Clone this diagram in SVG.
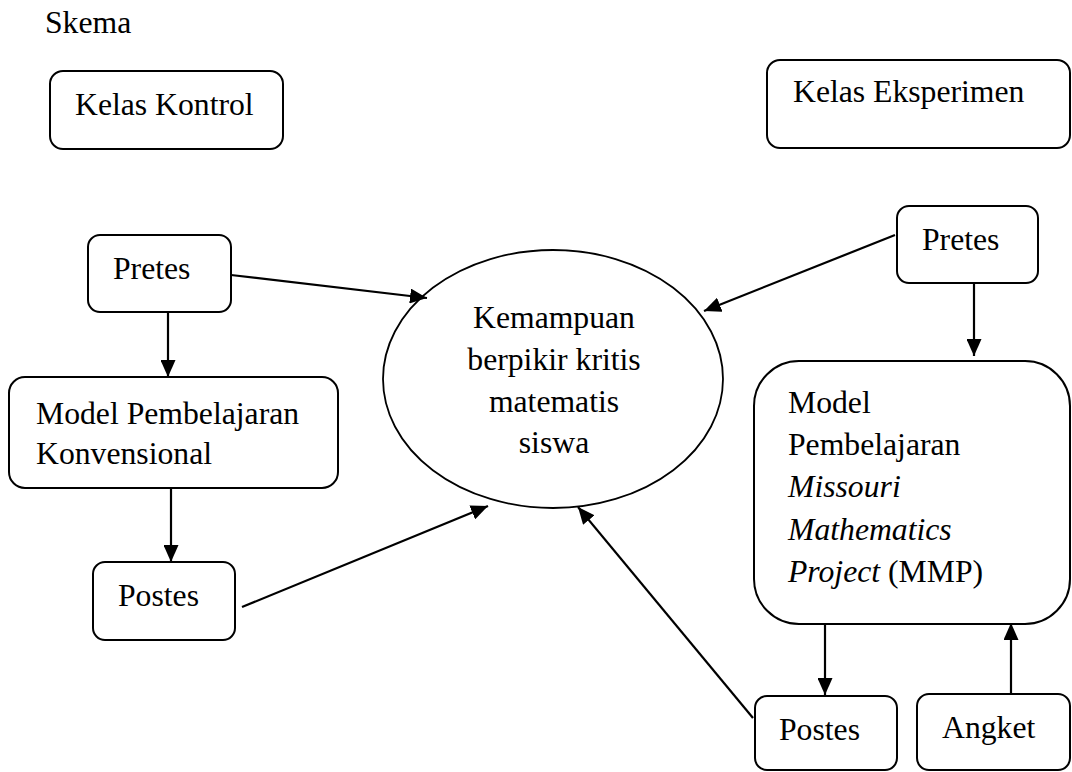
<svg xmlns="http://www.w3.org/2000/svg" width="1072" height="772" viewBox="0 0 1072 772">
<style>
text{font-family:"Liberation Serif","Times New Roman",serif;font-size:31.7px;fill:#000}
.box{fill:#fff;stroke:#000;stroke-width:2}
.ell{fill:#fff;stroke:#000;stroke-width:1.8}
.con{stroke:#000;stroke-width:2.2;fill:none;marker-end:url(#ah)}
.it{font-style:italic}
</style>
<defs>
<marker id="ah" markerUnits="userSpaceOnUse" markerWidth="18" markerHeight="15" refX="17" refY="7.5" orient="auto">
<path d="M0,0 L17,7.5 L0,15 Z" fill="#000"/>
</marker>
</defs>
<rect width="1072" height="772" fill="#fff"/>
<text x="45" y="33">Skema</text>
<g id="kelas-kontrol">
<rect class="box" x="50" y="71" width="233" height="78" rx="13"/>
<text x="75" y="115">Kelas Kontrol</text>
</g>
<g id="kelas-eksperimen">
<rect class="box" x="767" y="60" width="303" height="88" rx="13"/>
<text x="793" y="102">Kelas Eksperimen</text>
</g>
<g id="pretes-kontrol">
<rect class="box" x="88" y="235" width="143" height="77" rx="12"/>
<text x="113" y="279">Pretes</text>
</g>
<g id="model-konvensional">
<rect class="box" x="9" y="377" width="329" height="111" rx="16"/>
<text x="36" y="424">Model Pembelajaran</text>
<text x="36" y="464">Konvensional</text>
</g>
<g id="postes-kontrol">
<rect class="box" x="93" y="562" width="142" height="78" rx="12"/>
<text x="118" y="606">Postes</text>
</g>
<g id="kemampuan">
<ellipse class="ell" cx="553" cy="379" rx="170" ry="129"/>
<text x="554" y="328" text-anchor="middle">Kemampuan</text>
<text x="554" y="370" text-anchor="middle">berpikir kritis</text>
<text x="554" y="412" text-anchor="middle">matematis</text>
<text x="554" y="453" text-anchor="middle">siswa</text>
</g>
<g id="pretes-eksperimen">
<rect class="box" x="897" y="206" width="141" height="77" rx="12"/>
<text x="922" y="250">Pretes</text>
</g>
<g id="model-mmp">
<rect class="box" x="754" y="361" width="316" height="263" rx="45"/>
<text x="788" y="413">Model</text>
<text x="788" y="455">Pembelajaran</text>
<text x="788" y="497" class="it">Missouri</text>
<text x="788" y="540" class="it">Mathematics</text>
<text x="788" y="582"><tspan class="it">Project</tspan> (MMP)</text>
</g>
<g id="postes-eksperimen">
<rect class="box" x="755" y="696" width="142" height="74" rx="12"/>
<text x="779" y="740">Postes</text>
</g>
<g id="angket">
<rect class="box" x="917" y="694" width="153" height="76" rx="12"/>
<text x="942" y="738">Angket</text>
</g>
<g id="connectors">
<line class="con" x1="231" y1="275" x2="427" y2="298"/>
<line class="con" x1="168" y1="312" x2="168" y2="377"/>
<line class="con" x1="171" y1="488" x2="171" y2="562"/>
<line class="con" x1="242" y1="607" x2="488" y2="506"/>
<line class="con" x1="895" y1="235" x2="704" y2="311"/>
<line class="con" x1="974" y1="283" x2="974" y2="356"/>
<line class="con" x1="825" y1="624" x2="825" y2="695"/>
<line class="con" x1="1011" y1="694" x2="1011" y2="623"/>
<line class="con" x1="753" y1="718" x2="578" y2="507"/>
</g>
</svg>
